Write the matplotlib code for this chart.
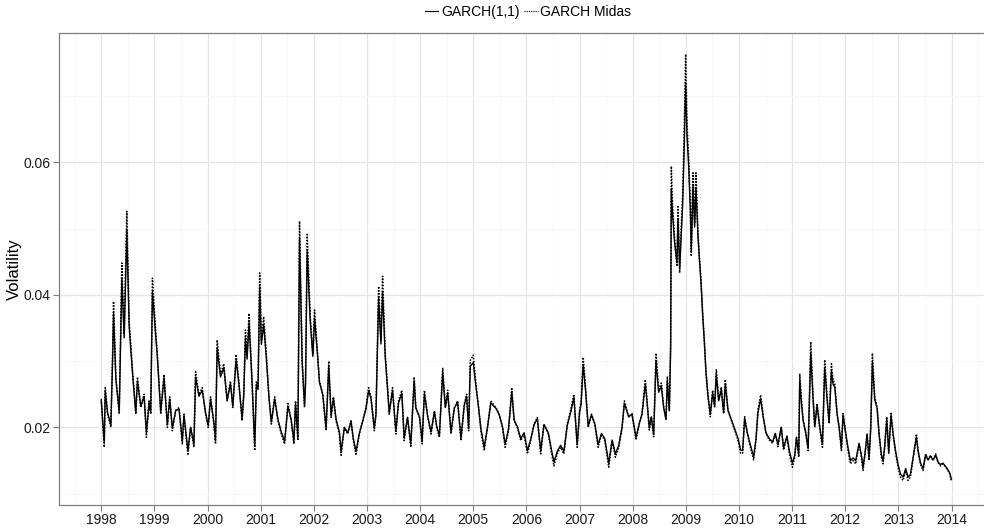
import matplotlib
matplotlib.use('Agg')
import matplotlib.pyplot as plt
from matplotlib.ticker import FixedLocator

# decimal year, GARCH(1,1) volatility, GARCH Midas volatility
dates = [
   1998.000, 1998.056, 1998.075, 1998.119, 1998.181, 1998.213, 1998.231, 1998.275, 1998.338, 1998.388,
   1998.431, 1998.481, 1998.525, 1998.588, 1998.650, 1998.681, 1998.744, 1998.806, 1998.850, 1998.900,
   1998.931, 1998.963, 1999.013, 1999.056, 1999.119, 1999.181, 1999.244, 1999.288, 1999.338, 1999.400,
   1999.463, 1999.525, 1999.556, 1999.631, 1999.681, 1999.744, 1999.775, 1999.838, 1999.900, 1999.963,
   2000.013, 2000.056, 2000.119, 2000.150, 2000.181, 2000.244, 2000.306, 2000.369, 2000.431, 2000.475,
   2000.538, 2000.588, 2000.650, 2000.681, 2000.713, 2000.744, 2000.781, 2000.838, 2000.888,
   2000.919, 2000.950, 2000.981, 2001.013, 2001.056, 2001.106, 2001.156, 2001.200, 2001.263, 2001.325,
   2001.388, 2001.450, 2001.513, 2001.575, 2001.625, 2001.656, 2001.700, 2001.731, 2001.781, 2001.825,
   2001.844, 2001.875, 2001.931, 2001.981, 2002.013, 2002.063, 2002.106, 2002.169, 2002.231, 2002.281,
   2002.325, 2002.369, 2002.419, 2002.481, 2002.513, 2002.575, 2002.638, 2002.700, 2002.744, 2002.794,
   2002.856, 2002.919, 2002.981, 2003.031, 2003.075, 2003.138, 2003.169, 2003.219, 2003.263, 2003.294,
   2003.344, 2003.388, 2003.419, 2003.481, 2003.544, 2003.594, 2003.656, 2003.700, 2003.763, 2003.825,
   2003.888, 2003.919,
   2003.988, 2004.038, 2004.081, 2004.144, 2004.206, 2004.269, 2004.313, 2004.363, 2004.425, 2004.475,
   2004.519, 2004.581, 2004.644, 2004.706, 2004.769, 2004.831, 2004.875, 2004.913, 2004.944, 2005.000,
   2005.050, 2005.100, 2005.144, 2005.206, 2005.269, 2005.331, 2005.375, 2005.425, 2005.488, 2005.550,
   2005.600, 2005.663, 2005.725, 2005.769, 2005.831, 2005.894, 2005.956, 2006.019, 2006.081, 2006.144,
   2006.206, 2006.269, 2006.331, 2006.413, 2006.475, 2006.519, 2006.581, 2006.644, 2006.706, 2006.769,
   2006.831, 2006.894, 2006.956, 2007.000, 2007.031, 2007.069, 2007.113, 2007.163, 2007.225, 2007.288,
   2007.350, 2007.413, 2007.475, 2007.550, 2007.613, 2007.675, 2007.738, 2007.800, 2007.844,
   2007.925, 2007.987, 2008.063, 2008.125, 2008.176, 2008.238, 2008.270, 2008.313, 2008.351, 2008.395,
   2008.439, 2008.489, 2008.539, 2008.583, 2008.627, 2008.652, 2008.690, 2008.715, 2008.727, 2008.752,
   2008.790, 2008.834, 2008.853, 2008.884, 2008.915, 2008.940, 2008.966, 2008.997, 2009.022, 2009.053,
   2009.085, 2009.103, 2009.135, 2009.166, 2009.191, 2009.229, 2009.254, 2009.285, 2009.317, 2009.348,
   2009.379, 2009.417, 2009.461, 2009.505, 2009.542, 2009.574, 2009.618, 2009.668, 2009.712, 2009.743,
   2009.793, 2009.856, 2009.918, 2009.981, 2010.031, 2010.069, 2010.107, 2010.157, 2010.213, 2010.276,
   2010.320, 2010.357, 2010.408, 2010.458, 2010.508, 2010.571, 2010.633, 2010.683, 2010.734, 2010.796,
   2010.840, 2010.903, 2010.947,
   2011.006, 2011.050, 2011.082, 2011.125, 2011.144, 2011.176, 2011.207, 2011.257, 2011.301, 2011.351,
   2011.395, 2011.426, 2011.470, 2011.520, 2011.571, 2011.614, 2011.658, 2011.696, 2011.740, 2011.771,
   2011.803, 2011.846, 2011.884, 2011.928, 2011.959, 2012.009, 2012.053, 2012.097, 2012.147, 2012.197,
   2012.260, 2012.304, 2012.335, 2012.373, 2012.411, 2012.448, 2012.480, 2012.511, 2012.555, 2012.599,
   2012.636, 2012.680, 2012.712, 2012.743, 2012.781, 2012.818, 2012.862, 2012.900, 2012.950, 2012.994,
   2013.038, 2013.088, 2013.138, 2013.182, 2013.226, 2013.263, 2013.307, 2013.339, 2013.370, 2013.414,
   2013.464, 2013.514, 2013.558, 2013.602, 2013.652, 2013.702, 2013.746, 2013.790, 2013.840, 2013.890,
   2013.934, 2013.966, 2013.997,
]

garch = [
   0.0240, 0.0178, 0.0255, 0.0222, 0.0204, 0.0300, 0.0372, 0.0272, 0.0224, 0.0425,
   0.0335, 0.0498, 0.0352, 0.0282, 0.0222, 0.0270, 0.0232, 0.0247, 0.0192, 0.0238,
   0.0222, 0.0405, 0.0350, 0.0305, 0.0224, 0.0275, 0.0204, 0.0243, 0.0199, 0.0225,
   0.0228, 0.0180, 0.0218, 0.0165, 0.0200, 0.0175, 0.0276, 0.0247, 0.0256, 0.0222,
   0.0203, 0.0243, 0.0208, 0.0180, 0.0320, 0.0276, 0.0290, 0.0241, 0.0266, 0.0232,
   0.0302, 0.0267, 0.0213, 0.0247, 0.0335, 0.0303, 0.0358, 0.0268, 0.0172,
   0.0265, 0.0257, 0.0412, 0.0325, 0.0355, 0.0305, 0.0245, 0.0208, 0.0243, 0.0212,
   0.0193, 0.0179, 0.0232, 0.0211, 0.0179, 0.0236, 0.0184, 0.0485, 0.0298, 0.0233,
   0.0266, 0.0468, 0.0362, 0.0307, 0.0365, 0.0316, 0.0268, 0.0249, 0.0199, 0.0292,
   0.0218, 0.0244, 0.0212, 0.0193, 0.0164, 0.0200, 0.0192, 0.0209, 0.0183, 0.0164,
   0.0191, 0.0209, 0.0228, 0.0255, 0.0244, 0.0199, 0.0219, 0.0395, 0.0326, 0.0405,
   0.0306, 0.0258, 0.0222, 0.0256, 0.0194, 0.0237, 0.0251, 0.0184, 0.0215, 0.0175,
   0.0270, 0.0230,
   0.0216, 0.0180, 0.0251, 0.0216, 0.0193, 0.0224, 0.0201, 0.0188, 0.0282, 0.0230,
   0.0252, 0.0193, 0.0229, 0.0238, 0.0184, 0.0233, 0.0247, 0.0198, 0.0292, 0.0298,
   0.0262, 0.0230, 0.0198, 0.0170, 0.0201, 0.0237, 0.0233, 0.0229, 0.0219, 0.0201,
   0.0175, 0.0197, 0.0254, 0.0211, 0.0201, 0.0183, 0.0192, 0.0165, 0.0182, 0.0204,
   0.0213, 0.0165, 0.0204, 0.0192, 0.0165, 0.0148, 0.0164, 0.0173, 0.0164, 0.0203,
   0.0222, 0.0245, 0.0174, 0.0222, 0.0236, 0.0295, 0.0256, 0.0202, 0.0219, 0.0205,
   0.0174, 0.0191, 0.0183, 0.0146, 0.0181, 0.0160, 0.0173, 0.0200, 0.0236,
   0.0216, 0.0220, 0.0185, 0.0206, 0.0220, 0.0266, 0.0239, 0.0199, 0.0216, 0.0189,
   0.0300, 0.0253, 0.0262, 0.0230, 0.0212, 0.0270, 0.0225, 0.0320, 0.0560, 0.0520,
   0.0478, 0.0448, 0.0515, 0.0440, 0.0492, 0.0535, 0.0610, 0.0720, 0.0640, 0.0595,
   0.0528, 0.0465, 0.0565, 0.0502, 0.0562, 0.0488, 0.0456, 0.0420, 0.0370, 0.0330,
   0.0284, 0.0248, 0.0220, 0.0252, 0.0232, 0.0280, 0.0240, 0.0257, 0.0222, 0.0266,
   0.0226, 0.0212, 0.0198, 0.0184, 0.0166, 0.0165, 0.0213, 0.0192, 0.0174, 0.0156,
   0.0182, 0.0222, 0.0243, 0.0215, 0.0192, 0.0183, 0.0178, 0.0191, 0.0174, 0.0200,
   0.0169, 0.0187, 0.0165,
   0.0146, 0.0158, 0.0185, 0.0159, 0.0270, 0.0237, 0.0211, 0.0192, 0.0169, 0.0312,
   0.0243, 0.0202, 0.0233, 0.0201, 0.0174, 0.0290, 0.0243, 0.0207, 0.0285, 0.0265,
   0.0261, 0.0221, 0.0201, 0.0169, 0.0219, 0.0191, 0.0169, 0.0150, 0.0154, 0.0150,
   0.0176, 0.0158, 0.0140, 0.0162, 0.0189, 0.0154, 0.0199, 0.0298, 0.0242, 0.0229,
   0.0191, 0.0159, 0.0150, 0.0172, 0.0212, 0.0163, 0.0218, 0.0190, 0.0163, 0.0144,
   0.0130, 0.0125, 0.0138, 0.0125, 0.0129, 0.0147, 0.0168, 0.0185, 0.0165, 0.0147,
   0.0138, 0.0159, 0.0151, 0.0157, 0.0151, 0.0158, 0.0148, 0.0144, 0.0146, 0.0141,
   0.0136, 0.0131, 0.0122,
]

midas = [
   0.0243, 0.0170, 0.0260, 0.0220, 0.0200, 0.0310, 0.0390, 0.0276, 0.0220, 0.0448,
   0.0340, 0.0526, 0.0360, 0.0286, 0.0220, 0.0276, 0.0230, 0.0250, 0.0185, 0.0240,
   0.0220, 0.0425, 0.0357, 0.0310, 0.0220, 0.0280, 0.0200, 0.0246, 0.0195, 0.0226,
   0.0230, 0.0175, 0.0220, 0.0158, 0.0200, 0.0170, 0.0284, 0.0250, 0.0260, 0.0220,
   0.0200, 0.0246, 0.0205, 0.0175, 0.0332, 0.0280, 0.0296, 0.0240, 0.0270, 0.0230,
   0.0310, 0.0270, 0.0210, 0.0250, 0.0347, 0.0310, 0.0372, 0.0270, 0.0165,
   0.0270, 0.0260, 0.0433, 0.0332, 0.0367, 0.0310, 0.0246, 0.0205, 0.0246, 0.0210,
   0.0190, 0.0175, 0.0236, 0.0210, 0.0175, 0.0240, 0.0180, 0.0511, 0.0300, 0.0230,
   0.0270, 0.0491, 0.0370, 0.0310, 0.0377, 0.0320, 0.0270, 0.0250, 0.0195, 0.0300,
   0.0215, 0.0246, 0.0210, 0.0190, 0.0158, 0.0200, 0.0190, 0.0210, 0.0180, 0.0158,
   0.0190, 0.0210, 0.0230, 0.0260, 0.0246, 0.0195, 0.0220, 0.0413, 0.0332, 0.0428,
   0.0310, 0.0260, 0.0220, 0.0260, 0.0190, 0.0240, 0.0256, 0.0180, 0.0215, 0.0170,
   0.0276, 0.0230,
   0.0215, 0.0175, 0.0256, 0.0215, 0.0190, 0.0225, 0.0200, 0.0185, 0.0290, 0.0230,
   0.0256, 0.0190, 0.0230, 0.0240, 0.0180, 0.0235, 0.0250, 0.0195, 0.0301, 0.0309,
   0.0266, 0.0230, 0.0195, 0.0165, 0.0200, 0.0240, 0.0235, 0.0230, 0.0220, 0.0200,
   0.0170, 0.0195, 0.0260, 0.0210, 0.0200, 0.0180, 0.0190, 0.0160, 0.0180, 0.0205,
   0.0215, 0.0160, 0.0205, 0.0190, 0.0160, 0.0142, 0.0160, 0.0170, 0.0160, 0.0205,
   0.0225, 0.0250, 0.0170, 0.0225, 0.0240, 0.0306, 0.0260, 0.0200, 0.0220, 0.0205,
   0.0170, 0.0190, 0.0180, 0.0140, 0.0180, 0.0155, 0.0170, 0.0200, 0.0240,
   0.0216, 0.0221, 0.0181, 0.0206, 0.0221, 0.0272, 0.0241, 0.0196, 0.0216, 0.0186,
   0.0312, 0.0256, 0.0267, 0.0231, 0.0211, 0.0277, 0.0226, 0.0332, 0.0594, 0.0533,
   0.0483, 0.0443, 0.0533, 0.0433, 0.0503, 0.0549, 0.0634, 0.0763, 0.0659, 0.0609,
   0.0533, 0.0458, 0.0584, 0.0508, 0.0584, 0.0493, 0.0458, 0.0423, 0.0372, 0.0332,
   0.0282, 0.0246, 0.0216, 0.0256, 0.0231, 0.0287, 0.0241, 0.0261, 0.0221, 0.0272,
   0.0226, 0.0211, 0.0196, 0.0181, 0.0161, 0.0161, 0.0216, 0.0191, 0.0171, 0.0151,
   0.0181, 0.0226, 0.0249, 0.0216, 0.0191, 0.0181, 0.0176, 0.0191, 0.0171, 0.0201,
   0.0166, 0.0186, 0.0161,
   0.0140, 0.0155, 0.0185, 0.0155, 0.0281, 0.0241, 0.0211, 0.0190, 0.0165, 0.0329,
   0.0246, 0.0200, 0.0236, 0.0200, 0.0170, 0.0302, 0.0246, 0.0206, 0.0296, 0.0271,
   0.0266, 0.0221, 0.0200, 0.0165, 0.0221, 0.0190, 0.0165, 0.0145, 0.0150, 0.0145,
   0.0175, 0.0155, 0.0135, 0.0160, 0.0190, 0.0150, 0.0200, 0.0312, 0.0246, 0.0231,
   0.0190, 0.0155, 0.0145, 0.0170, 0.0216, 0.0160, 0.0223, 0.0190, 0.0160, 0.0140,
   0.0125, 0.0120, 0.0135, 0.0120, 0.0125, 0.0145, 0.0170, 0.0190, 0.0165, 0.0145,
   0.0135, 0.0160, 0.0150, 0.0158, 0.0150, 0.0160, 0.0147, 0.0142, 0.0145, 0.0140,
   0.0135, 0.0130, 0.0120,
]

year_ticks = list(range(1998, 2015))
vol_ticks = [0.02, 0.04, 0.06]


def main():
   plt.rcParams['font.family'] = ['Liberation Sans', 'DejaVu Sans']

   fig = plt.figure(figsize=(9.84, 5.31), dpi=100)
   ax = fig.add_axes([0.0597, 0.049, 0.9505, 0.889])

   ax.plot(dates, garch, color='black', lw=1.0, ls='-', label='GARCH(1,1)')
   ax.plot(dates, midas, color='black', lw=1.1, ls=(0, (1, 1)), label='GARCH Midas')

   ax.set_xlim(1997.2, 2014.8)
   ax.set_ylim(0.0083, 0.0795)

   ax.set_xticks(year_ticks)
   ax.set_xticklabels([str(y) for y in year_ticks])
   ax.xaxis.set_minor_locator(FixedLocator([y + 0.5 for y in range(1997, 2015)]))
   ax.set_yticks(vol_ticks)
   ax.set_yticklabels(['0.02', '0.04', '0.06'])
   ax.yaxis.set_minor_locator(FixedLocator([0.01, 0.03, 0.05, 0.07]))

   ax.grid(which='major', color='#E5E5E5', lw=0.9)
   ax.grid(which='minor', color='#F7F7F7', lw=0.6)
   ax.set_axisbelow(True)

   for s in ax.spines.values():
      s.set_color('#7F7F7F')
      s.set_linewidth(0.9)

   ax.tick_params(which='major', length=4, width=0.8, color='#7F7F7F',
                  labelsize=10, labelcolor='#1A1A1A', pad=2)
   ax.tick_params(which='minor', length=0)

   ax.set_ylabel('Volatility', fontsize=12, labelpad=1)

   leg = fig.legend(loc='center', bbox_to_anchor=(528 / 984, 1 - 12 / 531), ncol=2,
                    frameon=False, fontsize=10, handlelength=1.0, handletextpad=0.2,
                    columnspacing=0.3, borderaxespad=0)
   for h in leg.legend_handles:
      h.set_linewidth(0.8)

   fig.savefig('out.png', dpi=100)


if __name__ == '__main__':
   main()
